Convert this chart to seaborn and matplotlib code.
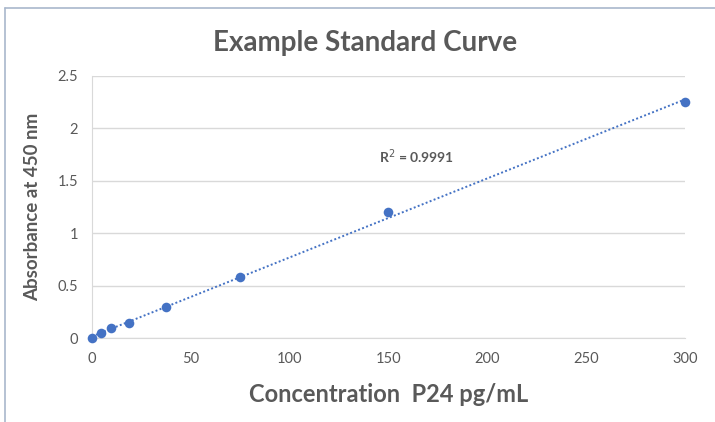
import numpy as np
import pandas as pd
import matplotlib
matplotlib.use('Agg')
import matplotlib.pyplot as plt
import seaborn as sns
from matplotlib.lines import Line2D

# standard curve data
concentration = [0, 4.7, 9.4, 18.75, 37.5, 75, 150, 300]
absorbance = [0.0, 0.045, 0.092, 0.145, 0.298, 0.58, 1.2, 2.25]
r_squared_text = 'R$^2$ = 0.9991'
x_ticks = [0, 50, 100, 150, 200, 250, 300]
y_ticks = [0, 0.5, 1, 1.5, 2, 2.5]
y_tick_labels = ['0', '0.5', '1', '1.5', '2', '2.5']

df = pd.DataFrame({'conc': concentration, 'abs': absorbance})

sns.set_style('white')
plt.rcParams['font.family'] = ['Lato', 'DejaVu Sans']

gray = '#595959'
blue = '#4472C4'

fig = plt.figure(figsize=(7.15, 4.22), dpi=100)
ax = fig.add_axes([0.1287, 0.199, 0.8293, 0.621])

# points and dotted linear trendline
sns.regplot(data=df, x='conc', y='abs', ax=ax, ci=None,
            scatter_kws={'color': blue, 's': 48, 'zorder': 3, 'linewidths': 0,
                         'alpha': 1, 'clip_on': False},
            line_kws={'color': blue, 'linestyle': (0, (1, 1.2)), 'linewidth': 1.4})

ax.set_xlim(0, 300)
ax.set_ylim(0, 2.5)
ax.set_xticks(x_ticks)
ax.set_yticks(y_ticks)
ax.set_yticklabels(y_tick_labels)
ax.tick_params(colors=gray, labelsize=10.5, length=0, pad=10)
ax.yaxis.grid(True, color='#d9d9d9', linewidth=1)
ax.set_axisbelow(True)
for s in ['top', 'right']:
    ax.spines[s].set_visible(False)
for s in ['left', 'bottom']:
    ax.spines[s].set_color('#d9d9d9')

ax.set_xlabel('Concentration  P24 pg/mL', fontsize=17, fontweight='bold', color=gray, labelpad=12)
ax.set_ylabel('Absorbance at 450 nm', fontsize=13.5, fontweight='bold', color=gray, labelpad=12)
ax.text(145, 1.67, r_squared_text, fontsize=10, fontweight='bold', color=gray)

fig.text(0.51, 0.898, 'Example Standard Curve', ha='center', va='center',
         fontsize=20, fontweight='bold', color=gray)

# outer frame lines (left and top)
fig.add_artist(Line2D([0.007, 0.007], [0, 0.981], color='#a9b8cc', linewidth=1.2))
fig.add_artist(Line2D([0.007, 1], [0.981, 0.981], color='#a9b8cc', linewidth=1.2))

fig.savefig('out.png', dpi=100)
